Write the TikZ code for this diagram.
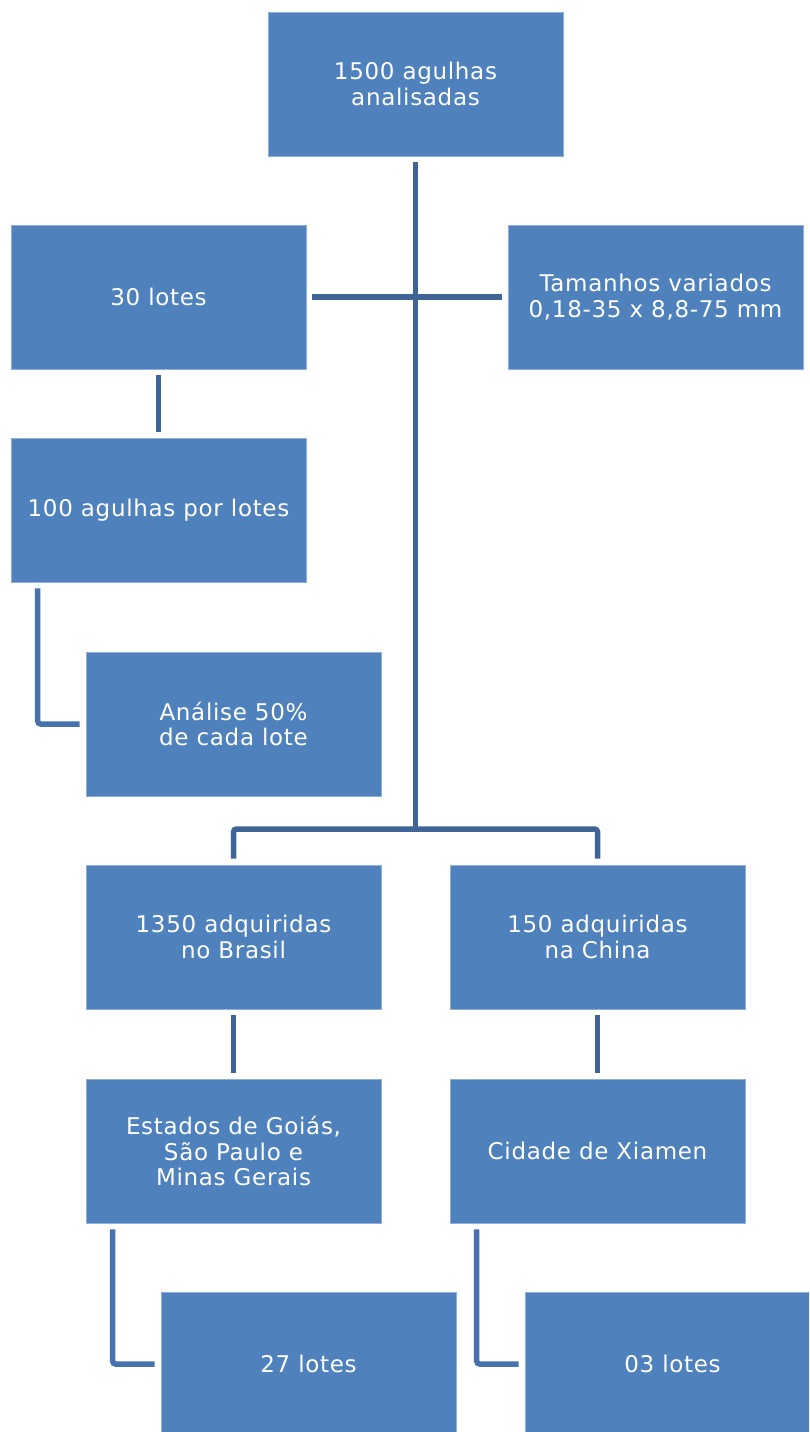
\documentclass[tikz,border=0pt]{standalone}
\usepackage{fontspec}
\setmainfont[LetterSpace=3]{DejaVu Sans}
\definecolor{boxblue}{HTML}{4F81BD}
\definecolor{boxedge}{HTML}{8FAEDB}
\definecolor{mainline}{HTML}{3E6596}
\definecolor{sideline}{HTML}{4673AD}
\begin{document}
\begin{tikzpicture}[x=1pt,y=-1pt,
  box/.style={rectangle, fill=boxblue, draw=boxedge, line width=0.7pt,
    minimum width=295pt, minimum height=144pt, text=white, align=center,
    font=\fontsize{23}{25.5}\selectfont, inner sep=0pt},
  conn/.style={draw=mainline, line width=5.5pt, rounded corners=3pt},
  sconn/.style={draw=sideline, line width=5.5pt, rounded corners=3pt}]
\useasboundingbox (0,0) rectangle (809,1432);
\clip (0,0) rectangle (809,1432);
\fill[white] (0,0) rectangle (809,1432);

\node[box] (top) at (415.5,84) {1500 agulhas\\analisadas};
\node[box] (l30) at (158.5,297) {30 lotes};
\node[box] (tam) at (655.5,297) {Tamanhos variados\\0,18-35 x 8,8-75 mm};
\node[box] (a100) at (158.5,510) {100 agulhas por lotes};
\node[box] (anal) at (233.5,724) {Análise 50\%\\de cada lote};
\node[box] (b1350) at (233.5,937) {1350 adquiridas\\no Brasil};
\node[box] (b150) at (597.5,937) {150 adquiridas\\na China};
\node[box] (est) at (233.5,1151) {Estados de Goiás,\\São Paulo e\\Minas Gerais};
\node[box] (cid) at (597.5,1151) {Cidade de Xiamen};
\node[box] (l27) at (308.5,1364) {27 lotes};
\node[box] (l03) at (672.5,1364) {03 lotes};

\coordinate (hub) at (415.5,829);
\draw[conn] ([yshift=-6pt]top.south) -- (hub);
\draw[conn] ([xshift=6pt]l30.east) -- ([xshift=-6pt]tam.west);
\draw[conn] ([yshift=6pt]b1350.north) |- (hub) -| ([yshift=6pt]b150.north);
\draw[conn] ([yshift=-6pt]l30.south) -- ([yshift=6pt]a100.north);
\draw[conn] ([yshift=-6pt]b1350.south) -- ([yshift=6pt]est.north);
\draw[conn] ([yshift=-6pt]b150.south) -- ([yshift=6pt]cid.north);
\draw[sconn] ([shift={(27pt,-6pt)}]a100.south west) |- ([xshift=-6pt]anal.west);
\draw[sconn] ([shift={(27pt,-6pt)}]est.south west) |- ([xshift=-6pt]l27.west);
\draw[sconn] ([shift={(27pt,-6pt)}]cid.south west) |- ([xshift=-6pt]l03.west);
\end{tikzpicture}
\end{document}
